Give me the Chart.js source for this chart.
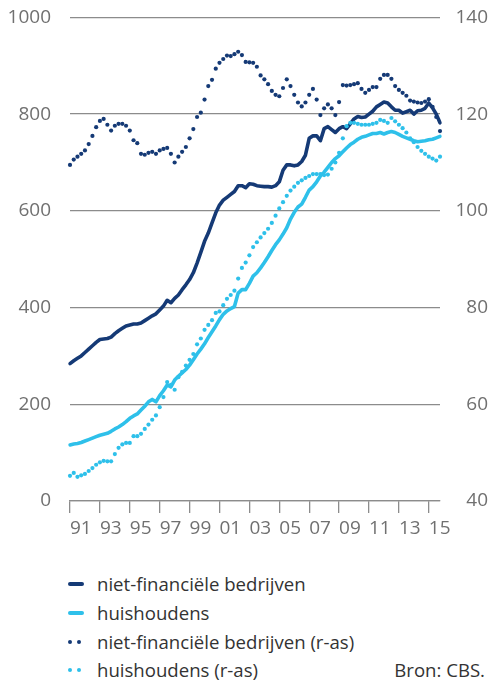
<!DOCTYPE html>
<html>
<head>
<meta charset="utf-8">
<script src="https://cdn.jsdelivr.net/npm/chart.js@4"></script>
<style>
  html, body { margin: 0; padding: 0; background: #fff; }
  #wrap { position: relative; width: 488px; height: 684px; overflow: hidden; font-family: "Open Sans", sans-serif; }
  #chartBox { position: absolute; left: 0; top: -13px; width: 488px; height: 558px; }
  .row { position: absolute; left: 97px; height: 28px; line-height: 28px; font-size: 18.6px; color: #333; white-space: nowrap; }
  .mark { position: absolute; left: -29px; top: 12px; }
  .solid { width: 16px; height: 4px; border-radius: 2px; }
  .dot { position: absolute; top: 0; width: 4px; height: 4px; border-radius: 50%; }
  #bron { position: absolute; right: 3px; top: 656px; height: 28px; line-height: 28px; font-size: 18.6px; color: #333; }
</style>
</head>
<body>
<div id="wrap">
  <div id="chartBox"><canvas id="chart" width="488" height="558"></canvas></div>
  <div id="legend"></div>
  <div id="bron">Bron: CBS.</div>
</div>
<script>
const navy = '#153a76';
const cyan = '#2ec0ea';
const grey = '#8c8c8c';
const tickColor = '#707070';

// kwartalen 1991K1 - 2015K4
const years = [1991, 1992, 1993, 1994, 1995, 1996, 1997, 1998, 1999, 2000, 2001, 2002, 2003,
  2004, 2005, 2006, 2007, 2008, 2009, 2010, 2011, 2012, 2013, 2014, 2015];
const categories = [];
years.forEach(y => ['K1', 'K2', 'K3', 'K4'].forEach(q => categories.push(y + q)));

const tickLabels = ['91', '93', '95', '97', '99', '01', '03', '05', '07', '09', '11', '13', '15'];

// linker as
const bedrijven = [
  284, 290, 295, 300, 307, 314, 321, 328, 334, 335, 336, 339, 346, 352, 357, 362,
  364, 366, 366, 368, 373, 378, 383, 387, 395, 403, 415, 410, 419, 426, 437, 447,
  458, 472, 492, 514, 537, 554, 575, 596, 612, 622, 628, 634, 640, 652, 652, 648,
  656, 655, 652, 651, 650, 650, 649, 652, 660, 684, 695, 695, 693, 695, 702, 715,
  750, 755, 755, 745, 770, 774, 768, 762, 770, 774, 770, 780, 790, 795, 793, 794,
  800, 806, 815, 820, 825, 823, 815, 808, 808, 802, 805, 808, 800, 807, 808, 812,
  823, 813, 800, 782
];
const huishoudens = [
  116, 118, 119, 121, 124, 127, 130, 133, 136, 138, 140, 144, 149, 153, 158, 164,
  171, 176, 180, 188, 196, 205, 210, 205, 218, 228, 240, 236, 250, 258, 265, 272,
  281, 292, 304, 314, 325, 338, 350, 362, 375, 386, 393, 398, 402, 430, 437, 437,
  450, 465, 472, 482, 493, 505, 518, 530, 540, 552, 565, 583, 597, 608, 614, 628,
  643, 650, 660, 672, 680, 690, 700, 708, 714, 722, 730, 737, 742, 748, 752, 754,
  757, 760, 760, 762, 759, 762, 764, 762, 758, 754, 751, 748, 745, 743, 744, 745,
  747, 748, 751, 754
];

// rechter as
const bedrijvenR = [
  109.5, 110.6, 111.2, 111.8, 112.5, 113.8, 115.5, 117.3, 118.6, 119.0, 117.8, 116.6, 117.6, 118.0, 118.0, 117.6,
  116.6, 114.6, 114.0, 111.8, 111.6, 112.0, 112.2, 111.8, 112.5, 112.8, 113.0, 111.8, 110.0, 111.2, 112.2, 113.2,
  115.0, 116.9, 119.4, 120.3, 123.0, 125.8, 127.1, 129.4, 130.6, 131.4, 132.1, 132.0, 132.4, 132.9, 132.2, 130.8,
  130.7, 130.6, 129.8, 128.0, 127.2, 126.2, 124.8, 124.0, 123.7, 125.4, 127.2, 125.8, 124.0, 122.4, 121.6, 122.4,
  124.0, 125.2, 123.0, 119.8, 121.2, 122.0, 121.2, 119.8, 122.5, 126.0, 125.9, 126.0, 126.2, 126.4, 125.2, 124.4,
  125.0, 125.6, 125.6, 127.3, 128.1, 128.1, 127.3, 125.8, 125.0, 124.4, 123.8, 122.8, 122.6, 122.4, 122.3, 122.6,
  123.1, 121.5, 119.4, 116.5
];
const huishoudensR = [
  45.2, 45.8, 45.0, 45.3, 45.6, 46.2, 46.8, 47.5, 48.0, 48.3, 48.2, 48.2, 49.7, 51.0, 51.7, 52.0,
  52.0, 53.4, 53.4, 53.9, 54.9, 55.8, 56.8, 57.7, 59.4, 61.5, 64.6, 64.0, 63.0, 65.6, 66.7, 68.0,
  69.2, 70.4, 72.4, 73.6, 75.4, 76.4, 77.4, 78.9, 79.2, 80.5, 81.8, 82.6, 83.5, 86.0, 88.2, 89.3,
  90.8, 92.5, 93.5, 94.5, 95.4, 96.3, 97.5, 99.0, 100.5, 101.8, 103.1, 104.2, 105.0, 105.8, 106.3, 106.8,
  107.2, 107.6, 107.6, 107.6, 107.4, 107.5, 108.7, 110.0, 112.0, 115.0, 117.5, 118.2, 118.2, 118.0, 117.8, 117.8,
  117.8, 118.0, 118.2, 118.8, 118.6, 118.2, 119.2, 118.5, 117.8, 117.1, 116.2, 115.0, 114.2, 113.2, 112.4, 111.8,
  111.2, 110.8, 110.4, 111.2
];

const legendItems = [
  { label: 'niet-financiële bedrijven', color: navy, dotted: false },
  { label: 'huishoudens', color: cyan, dotted: false },
  { label: 'niet-financiële bedrijven (r-as)', color: navy, dotted: true },
  { label: 'huishoudens (r-as)', color: cyan, dotted: true }
];

const font = { family: '"Open Sans", sans-serif', size: 19 };

function lineSet(label, data, color) {
  return { label, data, yAxisID: 'y', borderColor: color, borderWidth: 3.6,
    pointRadius: 0, tension: 0, borderJoinStyle: 'round', borderCapStyle: 'round', fill: false };
}
function dotSet(label, data, color) {
  return { label, data, yAxisID: 'yR', showLine: false, borderColor: color,
    pointRadius: 2.1, pointBorderWidth: 0, pointBackgroundColor: color };
}

new Chart(document.getElementById('chart'), {
  type: 'line',
  data: {
    labels: categories,
    datasets: [
      dotSet('huishoudens (r-as)', huishoudensR, cyan),
      dotSet('niet-financiële bedrijven (r-as)', bedrijvenR, navy),
      lineSet('huishoudens', huishoudens, cyan),
      lineSet('niet-financiële bedrijven', bedrijven, navy)
    ]
  },
  options: {
    responsive: false,
    animation: false,
    devicePixelRatio: 1,
    events: [],
    layout: { padding: 0 },
    plugins: { legend: { display: false }, tooltip: { enabled: false } },
    scales: {
      x: {
        type: 'category',
        offset: false,
        grid: {
          drawOnChartArea: false,
          tickLength: 12,
          lineWidth: 1.3,
          color: c => (c.index % 8 === 0 ? grey : 'transparent')
        },
        border: { display: true, color: grey, width: 1.3 },
        ticks: {
          autoSkip: false,
          maxRotation: 0,
          align: 'start',
          padding: 4,
          color: tickColor,
          font,
          callback: (v, i) => (i % 8 === 0 ? tickLabels[i / 8] : '')
        },
        afterFit: s => { s.height = 44; }
      },
      y: {
        position: 'left',
        min: 0,
        max: 1000,
        ticks: { stepSize: 200, padding: 19, color: tickColor, font, callback: v => String(v) },
        grid: { color: grey, lineWidth: 1.3, drawTicks: false },
        border: { display: false },
        afterFit: s => { s.width = 70; }
      },
      yR: {
        position: 'right',
        min: 40,
        max: 140,
        ticks: { stepSize: 20, padding: 13, crossAlign: 'far', color: tickColor, font, callback: v => String(v) },
        grid: { drawOnChartArea: false, drawTicks: false },
        border: { display: false },
        afterFit: s => { s.width = 48; }
      }
    }
  }
});

// legenda
const rowTops = [570, 599, 628, 656];
const legend = document.getElementById('legend');
legendItems.forEach((item, i) => {
  const row = document.createElement('div');
  row.className = 'row';
  row.style.top = rowTops[i] + 'px';
  const mark = document.createElement('div');
  mark.className = 'mark';
  if (item.dotted) {
    [0, 9].forEach(dx => {
      const d = document.createElement('div');
      d.className = 'dot';
      d.style.left = dx + 'px';
      d.style.background = item.color;
      mark.appendChild(d);
    });
  } else {
    mark.className += ' solid';
    mark.style.background = item.color;
  }
  row.appendChild(mark);
  row.appendChild(document.createTextNode(item.label));
  legend.appendChild(row);
});
</script>
</body>
</html>
